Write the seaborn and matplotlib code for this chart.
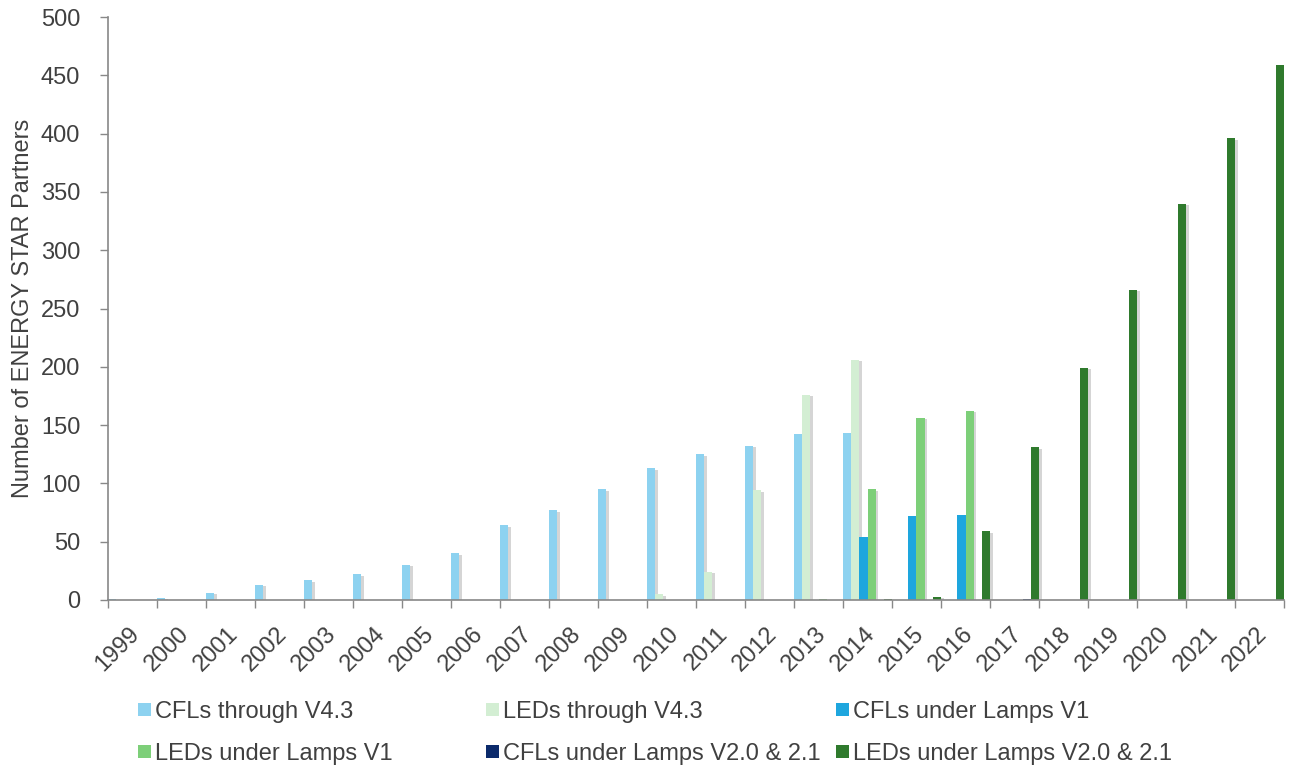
import numpy as np
import pandas as pd
import matplotlib
matplotlib.use("Agg")
import matplotlib.pyplot as plt
import matplotlib.patheffects as pe
from matplotlib.patches import Rectangle
import seaborn as sns

years = [str(y) for y in range(1999, 2023)]
series_names = ["CFLs through V4.3", "LEDs through V4.3", "CFLs under Lamps V1",
                "LEDs under Lamps V1", "CFLs under Lamps V2.0 & 2.1", "LEDs under Lamps V2.0 & 2.1"]
cfl_v43 = [1, 2, 6, 13, 17, 22, 30, 40, 64, 77, 95, 113, 125, 132, 142, 143,
           0, 0, 0, 0, 0, 0, 0, 0]
led_v43 = [0, 0, 0, 0, 0, 0, 0, 0, 0, 0, 0, 5, 24, 94, 176, 206,
           0, 0, 0, 0, 0, 0, 0, 0]
cfl_v1 = [0, 0, 0, 0, 0, 0, 0, 0, 0, 0, 0, 0, 0, 0, 0, 54,
          72, 73, 0, 0, 0, 0, 0, 0]
led_v1 = [0, 0, 0, 0, 0, 0, 0, 0, 0, 0, 0, 0, 0, 0, 0.6, 95,
          156, 162, 0, 0, 0, 0, 0, 0]
cfl_v2 = [0, 0, 0, 0, 0, 0, 0, 0, 0, 0, 0, 0, 0, 0, 0, 0,
          0, 0, 0.8, 0, 0, 0, 0, 0]
led_v2 = [0, 0, 0, 0, 0, 0, 0, 0, 0, 0, 0, 0, 0, 0, 0, 0.6,
          3, 59, 131, 199, 266, 340, 396, 459]
colors = ["#8DD2F0", "#D3EED3", "#1EA6DE", "#7DCF79", "#0B2A6B", "#2F7A2D"]

all_series = [cfl_v43, led_v43, cfl_v1, led_v1, cfl_v2, led_v2]
df = pd.DataFrame([(y, s, v) for s, vals in zip(series_names, all_series)
                   for y, v in zip(years, vals)], columns=["year", "series", "value"])

TXT = "#404040"
FS = 17
plt.rcParams["font.family"] = ["Liberation Sans", "DejaVu Sans"]
fig = plt.figure(figsize=(12.94, 7.66), dpi=100)
ax = fig.add_axes([108/1294, 166/766, (1284-108)/1294, (749-166)/766])

sns.barplot(data=df, x="year", y="value", hue="series", hue_order=series_names,
            palette=colors, saturation=1, width=1.0, dodge=True, legend=False,
            linewidth=0, ax=ax)
for p in ax.patches:
    p.set_path_effects([pe.SimplePatchShadow(offset=(2, -1), shadow_rgbFace="#888888", alpha=0.35),
                        pe.Normal()])

ax.set_xlim(-0.5, len(years) - 0.5)
ax.set_ylim(0, 500)
ax.set_yticks(np.arange(0, 501, 50))
ax.tick_params(axis="y", labelsize=FS, colors="#888888", labelcolor=TXT,
               length=6, width=1, direction="out", pad=14)
ax.set_xticks(np.arange(len(years)) + 0.08)
ax.set_xticklabels(years, rotation=45, ha="right", va="center", rotation_mode="anchor",
                   fontsize=FS, color=TXT)
ax.tick_params(axis="x", length=0, pad=22)
ax.set_xticks(np.arange(-0.5, len(years), 1.0), minor=True)
ax.tick_params(axis="x", which="minor", length=6, color="#888888", width=1)
ax.set_xlabel("")
ax.set_ylabel("Number of ENERGY STAR Partners", fontsize=FS, color=TXT, labelpad=5)
for s in ["top", "right"]:
    ax.spines[s].set_visible(False)
for s in ["left", "bottom"]:
    ax.spines[s].set_color("#888888")
    ax.spines[s].set_linewidth(1.2)

# legend drawn manually in Excel-like fixed layout
legend_pos = [(138, 718), (486, 718), (836, 718), (138, 760), (486, 760), (836, 760)]
for (px, py), name, c in zip(legend_pos, series_names, colors):
    fig.patches.append(Rectangle((px/1294, (766-py+2)/766), 13/1294, 13/766,
                                 facecolor=c, edgecolor="none", transform=fig.transFigure))
    fig.text((px+17)/1294, (766-py)/766, name, fontsize=FS, color=TXT,
             va="baseline", ha="left")

fig.savefig("out.png", dpi=100)
